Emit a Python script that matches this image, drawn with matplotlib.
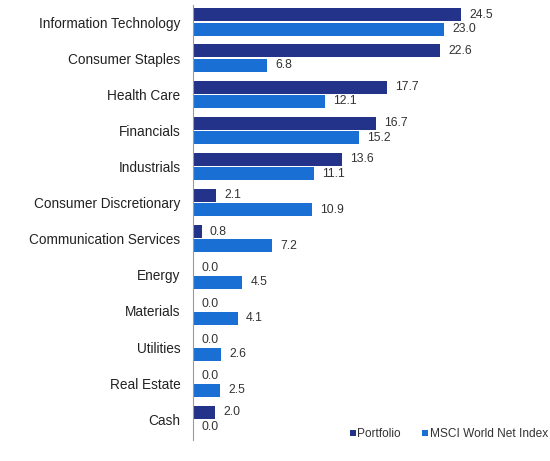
import matplotlib.pyplot as plt
import numpy as np

plt.rcParams['font.family'] = ['Liberation Sans', 'DejaVu Sans']

# -------- Data --------
sectors = ['Information Technology', 'Consumer Staples', 'Health Care', 'Financials',
           'Industrials', 'Consumer Discretionary', 'Communication Services', 'Energy',
           'Materials', 'Utilities', 'Real Estate', 'Cash']
portfolio = [24.5, 22.6, 17.7, 16.7, 13.6, 2.1, 0.8, 0.0, 0.0, 0.0, 0.0, 2.0]
msci_world = [23.0, 6.8, 12.1, 15.2, 11.1, 10.9, 7.2, 4.5, 4.1, 2.6, 2.5, 0.0]
series_names = ['Portfolio', 'MSCI World Net Index']

navy = '#24338a'
blue = '#1a6fd4'
text_col = '#333333'

# -------- Plot --------
fig = plt.figure(figsize=(5.5, 4.61), dpi=100)
ax = fig.add_axes([0.351, 0.045, 0.63, 0.944])

y = np.arange(len(sectors))
h = 0.36
b1 = ax.barh(y - 0.2, portfolio, height=h, color=navy, label=series_names[0])
b2 = ax.barh(y + 0.2, msci_world, height=h, color=blue, label=series_names[1])

for bars, vals in [(b1, portfolio), (b2, msci_world)]:
    for bar, v in zip(bars, vals):
        ax.text(bar.get_width() + 0.75, bar.get_y() + bar.get_height() / 2,
                f'{v:.1f}', va='center', ha='left', fontsize=8.8, color=text_col)

ax.set_ylim(11.58, -0.47)
ax.set_xlim(0, 31.7)
ax.set_yticks(y)
ax.set_yticklabels(sectors, fontsize=9.8, color='#222222')
ax.tick_params(axis='y', length=0, pad=9)
ax.set_xticks([])
for s in ['top', 'right', 'bottom']:
    ax.spines[s].set_visible(False)
ax.spines['left'].set_color('#9a9a9a')
ax.spines['left'].set_linewidth(0.8)

ax.legend(loc='lower right', bbox_to_anchor=(1.055, -0.025), ncol=2, frameon=False,
          fontsize=8.6, handlelength=0.45, handleheight=0.45, handletextpad=0.15,
          columnspacing=1.8, labelcolor=text_col)

plt.savefig('out.png', dpi=100)
